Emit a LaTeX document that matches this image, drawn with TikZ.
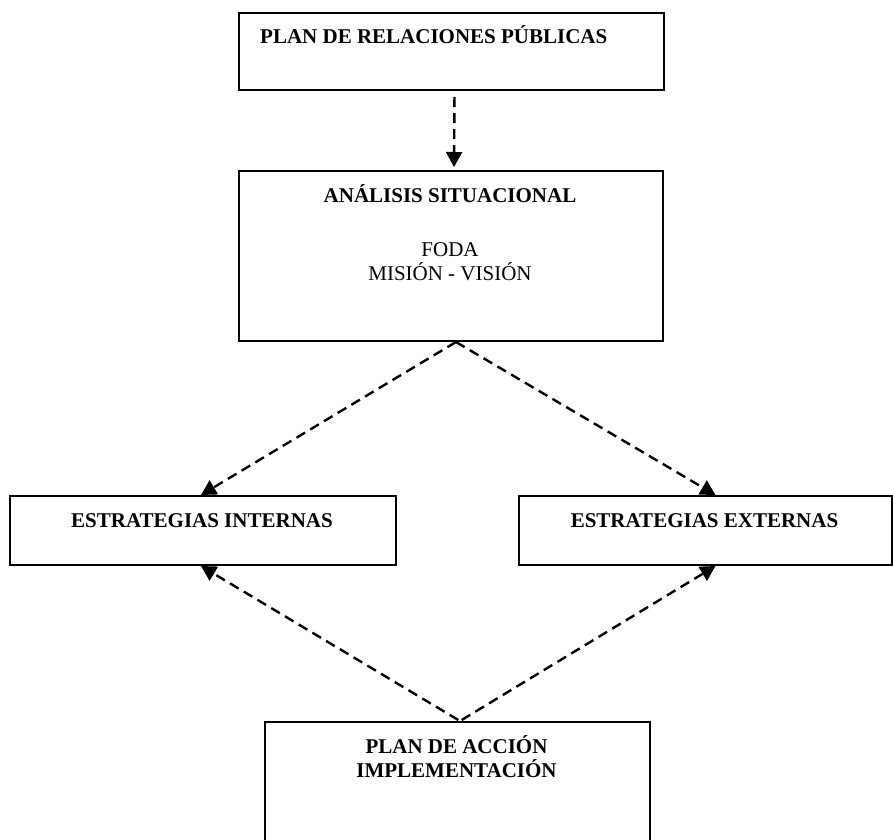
\documentclass[tikz,border=0pt]{standalone}
\usepackage{fontspec}
\setmainfont{Liberation Serif}
\usetikzlibrary{arrows.meta}
\tikzset{
  box/.style={draw, line width=2pt, rectangle, inner sep=0pt, anchor=north west},
  lbl/.style={anchor=base, inner sep=0pt, font=\fontsize{21}{24}\selectfont\bfseries},
  lblr/.style={anchor=base, inner sep=0pt, font=\fontsize{21}{24}\selectfont},
  conn/.style={line width=2.4pt, dash pattern=on 10pt off 6pt, -{Triangle[length=15pt,width=16pt]}}
}
\begin{document}
\begin{tikzpicture}[x=1pt,y=-1pt]
\clip (0,0) rectangle (893,839);
\fill[white] (0,0) rectangle (893,839);
% boxes
\node[box, minimum width=425pt, minimum height=77pt] (b1) at (238,12) {};
\node[box, minimum width=424pt, minimum height=170pt] (b2) at (238,170) {};
\node[box, minimum width=386pt, minimum height=69pt] (bl) at (9,495) {};
\node[box, minimum width=373pt, minimum height=69pt] (br) at (518,495) {};
\node[box, minimum width=385pt, minimum height=140pt] (bb) at (264,721) {};
% texts
\node[lbl, anchor=base west] (t1) at (260,43) {PLAN DE RELACIONES PÚBLICAS};
\node[lbl] (t2) at (450,202) {ANÁLISIS SITUACIONAL};
\node[lblr] (t3) at (450,256) {FODA};
\node[lblr] (t4) at (450,280) {MISIÓN - VISIÓN};
\node[lbl] (tl) at (202,527) {ESTRATEGIAS INTERNAS};
\node[lbl] (tr) at (704.5,527) {ESTRATEGIAS EXTERNAS};
\node[lbl] (tb1) at (456.5,753) {PLAN DE ACCIÓN};
\node[lbl] (tb2) at (456.5,777) {IMPLEMENTACIÓN};
% connectors
\draw[conn, shorten <=6pt, shorten >=3pt] ([xshift=3pt]b1.south) -- ([xshift=3pt]b2.north);
\draw[conn] ([xshift=5pt]b2.south) -- ([xshift=-2pt]bl.north);
\draw[conn] ([xshift=5pt]b2.south) -- ([xshift=10pt]br.north);
\draw[conn, shorten <=2pt] ([xshift=2.5pt]bb.north) -- ([xshift=-2pt]bl.south);
\draw[conn, shorten <=2pt] ([xshift=2.5pt]bb.north) -- ([xshift=10pt]br.south);
\end{tikzpicture}
\end{document}
